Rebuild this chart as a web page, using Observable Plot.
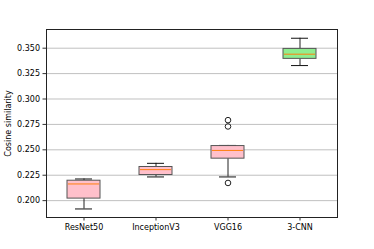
<!DOCTYPE html>
<html>
<head>
<meta charset="utf-8">
<script src="https://cdn.jsdelivr.net/npm/d3@7"></script>
<script src="https://cdn.jsdelivr.net/npm/@observablehq/plot@0.6"></script>
<style>
  html, body { margin: 0; padding: 0; background: #fff; }
  #chart { width: 374px; height: 249px; }
</style>
</head>
<body>
<div id="chart"></div>
<script>
const models    = ["ResNet50", "InceptionV3", "VGG16", "3-CNN"];
const whiskerLo = [0.1918, 0.2233, 0.2233, 0.3329];
const q1        = [0.2020, 0.2252, 0.2413, 0.3395];
const median    = [0.2164, 0.2305, 0.2494, 0.3441];
const q3        = [0.2196, 0.2331, 0.2537, 0.3493];
const whiskerHi = [0.2213, 0.2367, 0.2543, 0.3598];
const boxColors = ["#ffc0cb", "#ffc0cb", "#ffc0cb", "#90ee90"];
const outlierModel = ["VGG16", "VGG16", "VGG16"];
const outlierValue = [0.2792, 0.2730, 0.2174];
const yTicks = [0.200, 0.225, 0.250, 0.275, 0.300, 0.325, 0.350];

const stats = models.map((m, i) => ({
  model: m, lo: whiskerLo[i], q1: q1[i], med: median[i], q3: q3[i], hi: whiskerHi[i], color: boxColors[i]
}));
const outliers = outlierModel.map((m, i) => ({model: m, value: outlierValue[i]}));

const font = "DejaVu Sans, sans-serif";
const chart = Plot.plot({
  width: 374,
  height: 249,
  marginLeft: 46,
  marginRight: 37,
  marginTop: 29,
  marginBottom: 32,
  style: {fontFamily: font, fontSize: "8px", color: "#000", background: "#fff"},
  x: {type: "band", domain: models, paddingInner: 0.546, paddingOuter: 0.273},
  y: {domain: [0.1834, 0.3684]},
  marks: [
    Plot.gridY(yTicks, {stroke: "#b0b0b0", strokeOpacity: 0.8, strokeWidth: 1}),
    Plot.ruleX(stats, {x: "model", y1: "lo", y2: "q1", stroke: "#222", strokeWidth: 1}),
    Plot.ruleX(stats, {x: "model", y1: "q3", y2: "hi", stroke: "#222", strokeWidth: 1}),
    Plot.tickY(stats, {x: "model", y: "lo", stroke: "#111", strokeWidth: 1, insetLeft: 8, insetRight: 8}),
    Plot.tickY(stats, {x: "model", y: "hi", stroke: "#111", strokeWidth: 1, insetLeft: 8, insetRight: 8}),
    Plot.barY(stats, {x: "model", y1: "q1", y2: "q3", fill: "color", stroke: "#555", strokeWidth: 1}),
    Plot.tickY(stats, {x: "model", y: "med", stroke: "#ff7f0e", strokeWidth: 1, insetLeft: 1, insetRight: 1}),
    Plot.dot(outliers, {x: "model", y: "value", r: 2.8, stroke: "#222", fill: "none", strokeWidth: 1}),
    Plot.frame({stroke: "#222", strokeWidth: 1}),
    Plot.axisY(yTicks, {tickFormat: d3.format(".3f"), tickSize: 3.5, tickPadding: 3, stroke: "#333",
      label: "Cosine similarity", labelAnchor: "center", labelArrow: "none", labelOffset: 41, fontSize: 8, fontFamily: font}),
    Plot.axisX({tickSize: 3.5, tickPadding: 3, stroke: "#333", label: null, fontSize: 8, fontFamily: font})
  ]
});
document.getElementById("chart").appendChild(chart);
</script>
</body>
</html>
